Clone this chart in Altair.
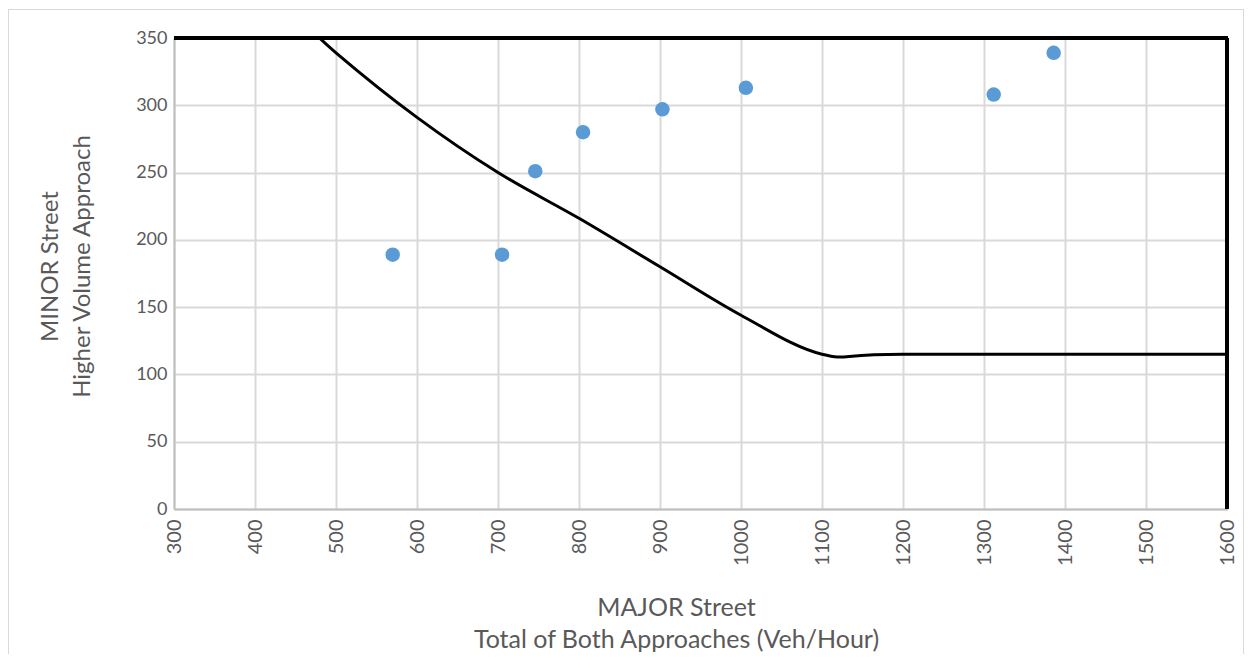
import altair as alt
import pandas as pd

# Observed points (MAJOR total vs MINOR higher approach)
major_pts = [570, 705, 746, 805, 903, 1006, 1312, 1386]
minor_pts = [189, 189, 251, 280, 297, 313, 308, 339]

# Warrant curve (first point lies above the visible range and is clipped)
curve_major = [450, 500, 600, 700, 800, 900, 1000, 1100, 1200, 1600]
curve_minor = [368, 339, 291, 250, 216, 180, 144, 115, 115, 115]

x_ticks = list(range(300, 1601, 100))
y_ticks = list(range(0, 351, 25))

W, H = 1053, 471
PAD_L, PAD_T, PAD_R, PAD_B = 166, 30, 17, 145
FONT = "Lato"
GRAY = "#595959"

pts = pd.DataFrame({"major": major_pts, "minor": minor_pts})
crv = pd.DataFrame({"major": curve_major, "minor": curve_minor})

x_scale = alt.Scale(domain=[300, 1600], nice=False, zero=False)
y_scale = alt.Scale(domain=[0, 350], nice=False)

x_axis = alt.Axis(
    values=x_ticks, format="d", labelAngle=-90, labelPadding=10, labelFontSize=20,
    labelColor=GRAY, labelFont=FONT, ticks=False,
    domainColor="#bfbfbf", domainWidth=2,
    gridColor="#d9d9d9", gridWidth=2,
    title=["MAJOR Street", "Total of Both Approaches (Veh/Hour)"],
    titleFont=FONT, titleFontSize=25, titleFontWeight="normal", titleColor=GRAY,
    titleLineHeight=32, titleX=502, titleY=86, titleAlign="center",
    titleBaseline="top", labelFlush=False,
)
y_axis = alt.Axis(
    values=y_ticks, format="d",
    labelExpr="datum.value % 50 === 0 ? datum.label : ''",
    labelPadding=7, labelFontSize=18, labelColor=GRAY, labelFont=FONT,
    ticks=False, domainColor="#bfbfbf", domainWidth=2,
    gridColor={"condition": {"test": "datum.value % 50 === 0", "value": "#d9d9d9"}, "value": "#f0f0f0"},
    gridWidth=2,
    title=["MINOR Street", "Higher Volume Approach"],
    titleFont=FONT, titleFontSize=24, titleFontWeight="normal", titleColor=GRAY,
    titleLineHeight=32, titleX=-136, titleY=228, titleAngle=-90,
    titleAlign="center", titleBaseline="top", labelFlush=False,
)

frame = alt.Chart(pts).mark_rect(fillOpacity=0, stroke="#d9d9d9", strokeWidth=1).encode(
    x=alt.value(-PAD_L + 0.5), x2=alt.value(W + PAD_R - 0.5),
    y=alt.value(-PAD_T + 1.5), y2=alt.value(H + 300)
)

line = alt.Chart(crv).mark_line(color="black", strokeWidth=3, interpolate="cardinal", clip=True).encode(
    x=alt.X("major:Q", scale=x_scale, axis=x_axis),
    y=alt.Y("minor:Q", scale=y_scale, axis=y_axis),
)

top_rule = alt.Chart(pts).mark_rule(color="black", strokeWidth=3).encode(
    x=alt.value(0), x2=alt.value(W + 1), y=alt.value(0)
)
right_rule = alt.Chart(pts).mark_rule(color="black", strokeWidth=3).encode(
    x=alt.value(W), y=alt.value(0), y2=alt.value(H)
)

points = alt.Chart(pts).mark_circle(size=210, color="#5b9bd5", opacity=1).encode(
    x=alt.X("major:Q", scale=x_scale),
    y=alt.Y("minor:Q", scale=y_scale),
)

chart = alt.layer(frame, line, top_rule, right_rule, points).properties(
    width=W, height=H,
    autosize=alt.AutoSizeParams(type="none"),
    padding={"left": PAD_L, "top": PAD_T, "right": PAD_R, "bottom": PAD_B},
).configure_view(stroke=None).configure(background="white")

chart.save("out.html", embed_options={"renderer": "svg", "actions": False})
